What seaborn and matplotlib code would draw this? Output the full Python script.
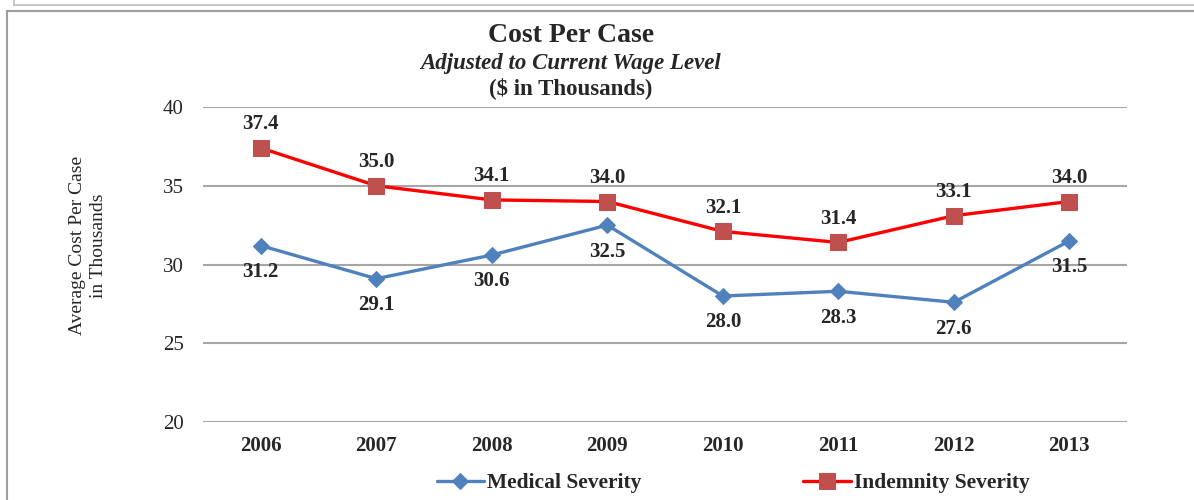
import pandas as pd
import matplotlib.pyplot as plt
import seaborn as sns
from matplotlib.lines import Line2D

# Chart values
years = ["2006", "2007", "2008", "2009", "2010", "2011", "2012", "2013"]
medical = [31.2, 29.1, 30.6, 32.5, 28.0, 28.3, 27.6, 31.5]
indemnity = [37.4, 35.0, 34.1, 34.0, 32.1, 31.4, 33.1, 34.0]
y_ticks = [20, 25, 30, 35, 40]

sns.set_style("white")
plt.rcParams["font.family"] = ["Liberation Serif", "DejaVu Serif"]

df = pd.DataFrame({"Year": years, "Medical Severity": medical, "Indemnity Severity": indemnity})

fig = plt.figure(figsize=(11.94, 5.0), dpi=100)
ax = fig.add_axes([0.170, 0.156, 0.774, 0.630])

sns.lineplot(data=df, x="Year", y="Medical Severity", ax=ax, color="#4F81BD", linewidth=2.4,
             marker="D", markersize=8, markerfacecolor="#4F81BD", markeredgecolor="#4F81BD",
             label="Medical Severity", sort=False)
sns.lineplot(data=df, x="Year", y="Indemnity Severity", ax=ax, color="#FF0000", linewidth=2.4,
             marker="s", markersize=12, markerfacecolor="#C0504D", markeredgecolor="#C0504D",
             label="Indemnity Severity", sort=False)

# Data labels: medical below, indemnity above
for i, (m, d) in enumerate(zip(medical, indemnity)):
    ax.annotate(f"{m:.1f}", (i, m), xytext=(0, -19), textcoords="offset points",
                ha="center", va="center", fontsize=15, fontweight="bold")
    ax.annotate(f"{d:.1f}", (i, d), xytext=(0, 17), textcoords="offset points",
                ha="center", va="center", fontsize=15, fontweight="bold")

ax.set_xlim(-0.5, len(years) - 0.5)
ax.set_ylim(20, 40)
ax.set_yticks(y_ticks)
ax.yaxis.grid(True, color="#A6A6A6", linewidth=1.5)
ax.xaxis.grid(False)
for s in ax.spines.values():
    s.set_visible(False)
ax.tick_params(axis="y", length=0, pad=14, labelsize=15)
ax.tick_params(axis="x", length=0, pad=10, labelsize=15)
for lbl in ax.get_xticklabels():
    lbl.set_fontweight("bold")
ax.set_xlabel("")
ax.set_ylabel("Average Cost Per Case\nin Thousands", fontsize=14, labelpad=40, linespacing=1.3)
ax.yaxis.label.set_y(0.56)

# Titles
fig.text(0.478, 0.928, "Cost Per Case", ha="center", va="center", fontsize=20, fontweight="bold")
fig.text(0.478, 0.874, "Adjusted to Current Wage Level", ha="center", va="center",
         fontsize=16.5, fontweight="bold", fontstyle="italic")
fig.text(0.478, 0.824, "($ in Thousands)", ha="center", va="center", fontsize=16.5, fontweight="bold")

# Legend below the plot
ax.legend_.remove()
handles, labels = ax.get_legend_handles_labels()
fig.legend(handles, labels, loc="center", bbox_to_anchor=(0.614, 0.034), ncol=2, frameon=False,
           prop={"weight": "bold", "size": 15.5}, columnspacing=7.5, handlelength=2.2,
           handletextpad=0.15)

# Frame lines around the chart area
fig.add_artist(Line2D([7 / 1194, 7 / 1194], [0, 1 - 11 / 500], color="#9E9E9E", linewidth=1.5))
fig.add_artist(Line2D([7 / 1194, 1], [1 - 11 / 500, 1 - 11 / 500], color="#9E9E9E", linewidth=1.5))
fig.add_artist(Line2D([14 / 1194, 1], [1 - 5 / 500, 1 - 5 / 500], color="#BDBDBD", linewidth=1.2))
fig.add_artist(Line2D([14 / 1194, 14 / 1194], [1 - 5 / 500, 1], color="#BDBDBD", linewidth=1.2))

plt.savefig("out.png", dpi=100)
